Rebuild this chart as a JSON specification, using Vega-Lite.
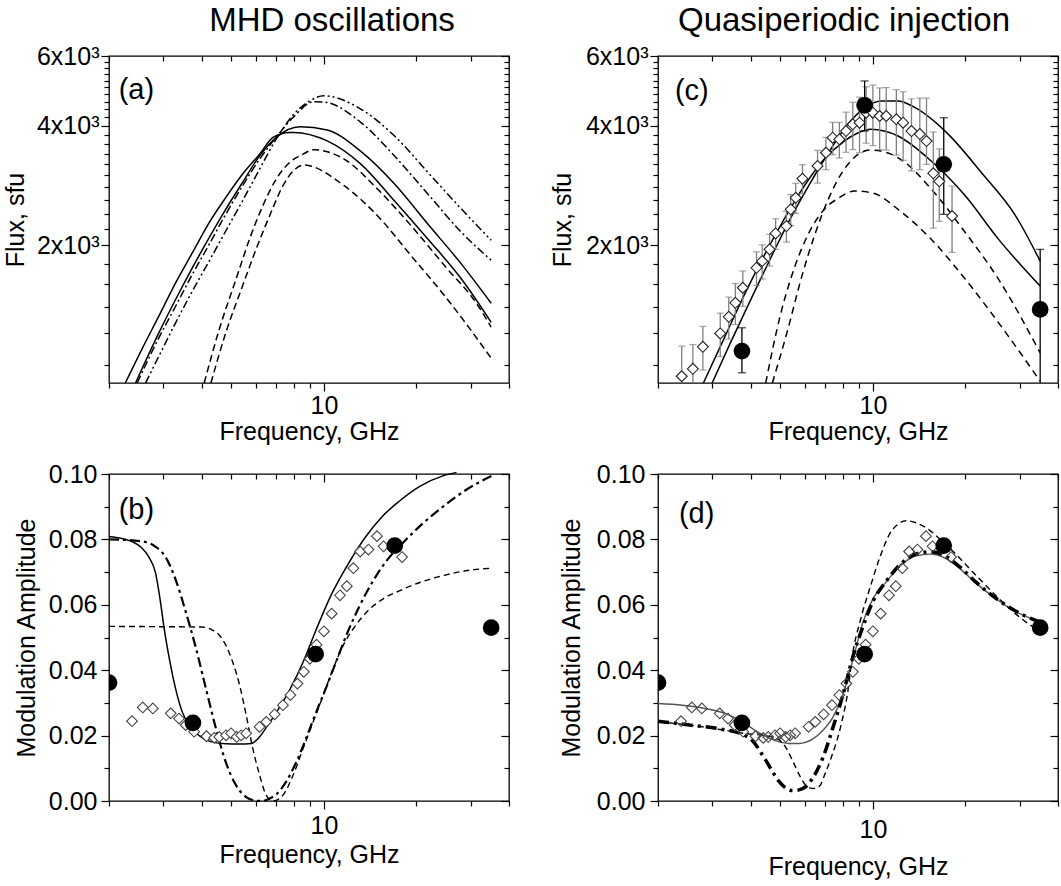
{
"$schema":"https://vega.github.io/schema/vega-lite/v6.json",
"padding":{"left":2,"top":4,"right":0,"bottom":0},
"background":"white",
"config":{
 "font":"Liberation Sans",
 "view":{"stroke":"black","strokeWidth":1.3},
 "line":{"interpolate":"monotone","clip":true},
 "axis":{"domain":false,"grid":false,"tickColor":"black","tickWidth":1.2,"labelFont":"Liberation Sans","labelFontSize":25,"labelColor":"black","titleFont":"Liberation Sans","titleFontSize":25,"titleFontWeight":"normal","titleColor":"black","labelOverlap":false,"labelFlush":false,"labelBound":false}
},
"datasets":{
 "a":[
  {"c":"s1","f":2.26,"F":900},{"c":"s1","f":2.56,"F":1096},{"c":"s1","f":2.91,"F":1330},{"c":"s1","f":3.30,"F":1614},{"c":"s1","f":3.74,"F":1920},{"c":"s1","f":4.24,"F":2286},{"c":"s1","f":4.80,"F":2642},{"c":"s1","f":5.44,"F":3025},{"c":"s1","f":6.18,"F":3396},{"c":"s1","f":6.83,"F":3742},{"c":"s1","f":7.74,"F":3852},{"c":"s1","f":7.98,"F":3852},{"c":"s1","f":10.25,"F":3667},{"c":"s1","f":13.19,"F":3205},{"c":"s1","f":16.95,"F":2591},{"c":"s1","f":21.78,"F":2075},{"c":"s1","f":28.02,"F":1645},{"c":"s1","f":35,"F":1280},
  {"c":"s2","f":2.44,"F":900},{"c":"s2","f":2.91,"F":1207},{"c":"s2","f":3.30,"F":1465},{"c":"s2","f":3.74,"F":1760},{"c":"s2","f":4.24,"F":2095},{"c":"s2","f":4.80,"F":2469},{"c":"s2","f":5.44,"F":2883},{"c":"s2","f":6.18,"F":3363},{"c":"s2","f":7.00,"F":3742},{"c":"s2","f":8.35,"F":3980},{"c":"s2","f":10.25,"F":3904},{"c":"s2","f":13.19,"F":3450},{"c":"s2","f":16.95,"F":2860},{"c":"s2","f":21.78,"F":2263},{"c":"s2","f":28.02,"F":1794},{"c":"s2","f":35,"F":1430},
  {"c":"dd1","f":2.47,"F":900},{"c":"dd1","f":2.91,"F":1173},{"c":"dd1","f":3.30,"F":1409},{"c":"dd1","f":3.74,"F":1694},{"c":"dd1","f":4.24,"F":2015},{"c":"dd1","f":4.80,"F":2399},{"c":"dd1","f":5.44,"F":2827},{"c":"dd1","f":6.18,"F":3300},{"c":"dd1","f":7.00,"F":3748},{"c":"dd1","f":7.94,"F":4203},{"c":"dd1","f":9.27,"F":4600},{"c":"dd1","f":10.0,"F":4592},{"c":"dd1","f":13.19,"F":4083},{"c":"dd1","f":16.95,"F":3363},{"c":"dd1","f":21.78,"F":2694},{"c":"dd1","f":28.02,"F":2157},{"c":"dd1","f":35,"F":1835},
  {"c":"dd2","f":2.63,"F":900},{"c":"dd2","f":2.91,"F":1054},{"c":"dd2","f":3.30,"F":1280},{"c":"dd2","f":3.74,"F":1537},{"c":"dd2","f":4.24,"F":1829},{"c":"dd2","f":4.80,"F":2177},{"c":"dd2","f":5.44,"F":2591},{"c":"dd2","f":6.18,"F":3114},{"c":"dd2","f":7.00,"F":3705},{"c":"dd2","f":7.94,"F":4259},{"c":"dd2","f":9.00,"F":4627},{"c":"dd2","f":10.0,"F":4763},{"c":"dd2","f":13.19,"F":4410},{"c":"dd2","f":16.95,"F":3777},{"c":"dd2","f":21.78,"F":3055},{"c":"dd2","f":28.02,"F":2469},{"c":"dd2","f":35,"F":2060},
  {"c":"d1","f":4.08,"F":900},{"c":"d1","f":4.57,"F":1231},{"c":"d1","f":5.18,"F":1645},{"c":"d1","f":5.73,"F":2075},{"c":"d1","f":6.33,"F":2517},{"c":"d1","f":7.00,"F":2939},{"c":"d1","f":7.74,"F":3237},{"c":"d1","f":8.56,"F":3396},{"c":"d1","f":9.27,"F":3483},{"c":"d1","f":11.63,"F":3300},{"c":"d1","f":14.94,"F":2773},{"c":"d1","f":19.22,"F":2241},{"c":"d1","f":24.70,"F":1777},{"c":"d1","f":31.74,"F":1409},{"c":"d1","f":35,"F":1245},
  {"c":"d2","f":4.29,"F":900},{"c":"d2","f":4.80,"F":1207},{"c":"d2","f":5.44,"F":1582},{"c":"d2","f":6.02,"F":1957},{"c":"d2","f":6.66,"F":2375},{"c":"d2","f":7.36,"F":2827},{"c":"d2","f":7.94,"F":3078},{"c":"d2","f":8.60,"F":3187},{"c":"d2","f":11.63,"F":2827},{"c":"d2","f":14.94,"F":2375},{"c":"d2","f":19.22,"F":1883},{"c":"d2","f":24.70,"F":1493},{"c":"d2","f":35,"F":1040}
 ],
 "b":[
  {"c":"sol","f":2.0,"M":0.0809},{"c":"sol","f":2.2,"M":0.0803},{"c":"sol","f":2.38,"M":0.0793},{"c":"sol","f":2.55,"M":0.0775},{"c":"sol","f":2.7,"M":0.0745},{"c":"sol","f":2.83,"M":0.070},{"c":"sol","f":2.95,"M":0.060},{"c":"sol","f":3.02,"M":0.053},{"c":"sol","f":3.15,"M":0.043},{"c":"sol","f":3.3,"M":0.034},{"c":"sol","f":3.47,"M":0.027},{"c":"sol","f":3.65,"M":0.0232},{"c":"sol","f":3.93,"M":0.0200},{"c":"sol","f":4.24,"M":0.0183},{"c":"sol","f":4.8,"M":0.0175},{"c":"sol","f":5.32,"M":0.0174},{"c":"sol","f":5.81,"M":0.0176},{"c":"sol","f":6.1,"M":0.0190},{"c":"sol","f":6.5,"M":0.0225},{"c":"sol","f":7.0,"M":0.0270},{"c":"sol","f":7.74,"M":0.0340},{"c":"sol","f":8.56,"M":0.0425},{"c":"sol","f":9.4,"M":0.0520},{"c":"sol","f":10.5,"M":0.0625},{"c":"sol","f":12.0,"M":0.0725},{"c":"sol","f":13.6,"M":0.0805},{"c":"sol","f":15.4,"M":0.0868},{"c":"sol","f":17.5,"M":0.0915},{"c":"sol","f":20.5,"M":0.0962},{"c":"sol","f":24.5,"M":0.0995},{"c":"sol","f":27,"M":0.1005},
  {"c":"dash","f":2.0,"M":0.0534},{"c":"dash","f":3.0,"M":0.0533},{"c":"dash","f":4.0,"M":0.0532},{"c":"dash","f":4.35,"M":0.0522},{"c":"dash","f":4.57,"M":0.0507},{"c":"dash","f":4.80,"M":0.0476},{"c":"dash","f":5.05,"M":0.0425},{"c":"dash","f":5.32,"M":0.0354},{"c":"dash","f":5.59,"M":0.0262},{"c":"dash","f":5.87,"M":0.0161},{"c":"dash","f":6.18,"M":0.0079},{"c":"dash","f":6.49,"M":0.0018},{"c":"dash","f":6.83,"M":0.0},{"c":"dash","f":7.36,"M":0.0018},{"c":"dash","f":7.94,"M":0.0079},{"c":"dash","f":8.56,"M":0.0161},{"c":"dash","f":9.23,"M":0.0242},{"c":"dash","f":9.95,"M":0.0323},{"c":"dash","f":10.72,"M":0.0405},{"c":"dash","f":11.55,"M":0.0476},{"c":"dash","f":12.47,"M":0.0527},{"c":"dash","f":13.79,"M":0.0578},{"c":"dash","f":15.63,"M":0.0619},{"c":"dash","f":17.72,"M":0.0644},{"c":"dash","f":20.6,"M":0.0669},{"c":"dash","f":24.6,"M":0.069},{"c":"dash","f":29.3,"M":0.0705},{"c":"dash","f":35.3,"M":0.0712},
  {"c":"dd","f":2.0,"M":0.0800},{"c":"dd","f":2.38,"M":0.0797},{"c":"dd","f":2.63,"M":0.0792},{"c":"dd","f":2.83,"M":0.0778},{"c":"dd","f":3.06,"M":0.0745},{"c":"dd","f":3.30,"M":0.0675},{"c":"dd","f":3.55,"M":0.0580},{"c":"dd","f":3.83,"M":0.0470},{"c":"dd","f":4.13,"M":0.0345},{"c":"dd","f":4.46,"M":0.0220},{"c":"dd","f":4.80,"M":0.0118},{"c":"dd","f":5.18,"M":0.0048},{"c":"dd","f":5.59,"M":0.0012},{"c":"dd","f":6.0,"M":0.0001},{"c":"dd","f":6.3,"M":0.0},{"c":"dd","f":6.6,"M":0.0006},{"c":"dd","f":7.0,"M":0.0020},{"c":"dd","f":7.55,"M":0.0060},{"c":"dd","f":8.14,"M":0.0120},{"c":"dd","f":8.78,"M":0.0195},{"c":"dd","f":9.47,"M":0.0275},{"c":"dd","f":10.2,"M":0.0350},{"c":"dd","f":11.0,"M":0.0430},{"c":"dd","f":11.87,"M":0.0510},{"c":"dd","f":13.12,"M":0.0600},{"c":"dd","f":14.5,"M":0.0675},{"c":"dd","f":16.0,"M":0.0735},{"c":"dd","f":17.72,"M":0.0781},{"c":"dd","f":20.6,"M":0.0842},{"c":"dd","f":24.6,"M":0.0903},{"c":"dd","f":29.3,"M":0.0954},{"c":"dd","f":35.3,"M":0.0995}
 ],
 "diam":[
  {"f":2.377,"M":0.0244},{"f":2.576,"M":0.0286},{"f":2.778,"M":0.0283},{"f":3.174,"M":0.0268},{"f":3.379,"M":0.0252},{"f":3.553,"M":0.0232},{"f":3.784,"M":0.0212},{"f":4.151,"M":0.0198},{"f":4.399,"M":0.0193},{"f":4.567,"M":0.0196},{"f":4.804,"M":0.0201},{"f":4.989,"M":0.0207},{"f":5.204,"M":0.0196},{"f":5.379,"M":0.0201},{"f":5.586,"M":0.0207},{"f":6.175,"M":0.0227},{"f":6.494,"M":0.0242},{"f":6.914,"M":0.0265},{"f":7.359,"M":0.0293},{"f":7.780,"M":0.0324},{"f":8.202,"M":0.0359},{"f":8.602,"M":0.0395},{"f":9.0,"M":0.0435},{"f":9.465,"M":0.0478},{"f":10.0,"M":0.0519},{"f":10.60,"M":0.0573},{"f":11.28,"M":0.0629},{"f":11.87,"M":0.0657},{"f":12.47,"M":0.0712},{"f":13.12,"M":0.0763},{"f":13.96,"M":0.0769},{"f":14.88,"M":0.0810},{"f":15.63,"M":0.0779},{"f":16.65,"M":0.0773},{"f":17.96,"M":0.0746}
 ],
 "circ":[
  {"f":2.0,"M":0.0362},{"f":3.75,"M":0.0239},{"f":9.4,"M":0.0449},{"f":17,"M":0.0781},{"f":35,"M":0.053}
 ],
 "c":[
  {"c":"hi","f":3.00,"F":900},{"c":"hi","f":3.44,"F":1136},{"c":"hi","f":4.00,"F":1456},{"c":"hi","f":4.65,"F":1858},{"c":"hi","f":5.40,"F":2343},{"c":"hi","f":6.28,"F":2888},{"c":"hi","f":7.30,"F":3498},{"c":"hi","f":8.29,"F":4043},{"c":"hi","f":9.39,"F":4437},{"c":"hi","f":10.62,"F":4623},{"c":"hi","f":12.07,"F":4623},{"c":"hi","f":13.72,"F":4445},{"c":"hi","f":17.60,"F":3808},{"c":"hi","f":22.56,"F":3048},{"c":"hi","f":29.15,"F":2371},{"c":"hi","f":35,"F":1826},
  {"c":"lo","f":2.81,"F":900},{"c":"lo","f":3.27,"F":1159},{"c":"lo","f":3.80,"F":1490},{"c":"lo","f":4.42,"F":1879},{"c":"lo","f":5.14,"F":2325},{"c":"lo","f":5.98,"F":2822},{"c":"lo","f":6.95,"F":3301},{"c":"lo","f":8.08,"F":3663},{"c":"lo","f":8.93,"F":3837},{"c":"lo","f":9.85,"F":3920},{"c":"lo","f":12.07,"F":3771},{"c":"lo","f":15.48,"F":3262},{"c":"lo","f":20.0,"F":2663},{"c":"lo","f":25.64,"F":2071},{"c":"lo","f":35,"F":1579},
  {"c":"dhi","f":4.71,"F":900},{"c":"dhi","f":5.27,"F":1216},{"c":"dhi","f":5.90,"F":1693},{"c":"dhi","f":6.45,"F":2111},{"c":"dhi","f":7.12,"F":2587},{"c":"dhi","f":7.88,"F":3025},{"c":"dhi","f":8.73,"F":3339},{"c":"dhi","f":9.85,"F":3477},{"c":"dhi","f":11.20,"F":3418},{"c":"dhi","f":12.54,"F":3262},{"c":"dhi","f":15.48,"F":2773},{"c":"dhi","f":20.0,"F":2152},{"c":"dhi","f":25.64,"F":1642},{"c":"dhi","f":35,"F":1072},
  {"c":"dlo","f":4.48,"F":900},{"c":"dlo","f":5.01,"F":1342},{"c":"dlo","f":5.61,"F":1794},{"c":"dlo","f":6.21,"F":2160},{"c":"dlo","f":6.95,"F":2465},{"c":"dlo","f":7.74,"F":2632},{"c":"dlo","f":8.71,"F":2741},{"c":"dlo","f":10.0,"F":2709},{"c":"dlo","f":12.07,"F":2465},{"c":"dlo","f":15.48,"F":2071},{"c":"dlo","f":20.0,"F":1642},{"c":"dlo","f":25.64,"F":1276},{"c":"dlo","f":35,"F":910}
 ],
 "diamc":[
  {"f":2.389,"F":936,"lo":757,"hi":1115},{"f":2.597,"F":977,"lo":829,"hi":1125},{"f":2.799,"F":1110,"lo":970,"hi":1250},{"f":3.188,"F":1200,"lo":1050,"hi":1350},{"f":3.397,"F":1321,"lo":1161,"hi":1481},{"f":3.570,"F":1433,"lo":1263,"hi":1603},{"f":3.775,"F":1564,"lo":1404,"hi":1724},{"f":4.182,"F":1756,"lo":1586,"hi":1926},{"f":4.365,"F":1826,"lo":1646,"hi":2006},{"f":4.612,"F":1954,"lo":1774,"hi":2134},{"f":4.826,"F":2144,"lo":1954,"hi":2334},{"f":5.232,"F":2237,"lo":2037,"hi":2437},{"f":5.404,"F":2465,"lo":2245,"hi":2685},{"f":5.610,"F":2636,"lo":2406,"hi":2866},{"f":5.901,"F":2944,"lo":2694,"hi":3194},{"f":6.607,"F":3170,"lo":2870,"hi":3470},{"f":7.035,"F":3423,"lo":3103,"hi":3743},{"f":7.398,"F":3735,"lo":3385,"hi":4085},{"f":7.780,"F":3700,"lo":3320,"hi":4080},{"f":8.177,"F":3882,"lo":3432,"hi":4332},{"f":8.602,"F":4036,"lo":3486,"hi":4586},{"f":9.048,"F":4075,"lo":3425,"hi":4725},{"f":9.508,"F":4318,"lo":3618,"hi":5018},{"f":10.0,"F":4318,"lo":3568,"hi":5068},{"f":10.52,"F":4236,"lo":3486,"hi":4986},{"f":11.05,"F":4236,"lo":3476,"hi":4996},{"f":11.92,"F":4155,"lo":3375,"hi":4935},{"f":12.54,"F":4075,"lo":3275,"hi":4875},{"f":13.35,"F":3882,"lo":3082,"hi":4682},{"f":14.21,"F":3815,"lo":3100,"hi":4700},{"f":14.94,"F":3663,"lo":3200,"hi":4700},{"f":15.72,"F":3038,"lo":2210,"hi":3860},{"f":16.44,"F":2900,"lo":2300,"hi":3500},{"f":18.09,"F":2371,"lo":1920,"hi":2820}
 ],
 "circc":[
  {"f":3.75,"F":1083,"lo":955,"hi":1240},{"f":9.4,"F":4508,"lo":3883,"hi":5191},{"f":17,"F":3201,"lo":2394,"hi":4195},{"f":35,"F":1379,"lo":800,"hi":1954}
 ],
 "d":[
  {"c":"gray","f":2.0,"M":0.0298},{"c":"gray","f":2.4,"M":0.0293},{"c":"gray","f":2.84,"M":0.0283},{"c":"gray","f":3.3,"M":0.0268},{"c":"gray","f":3.77,"M":0.0242},{"c":"gray","f":4.2,"M":0.0212},{"c":"gray","f":4.77,"M":0.0186},{"c":"gray","f":5.33,"M":0.0176},{"c":"gray","f":5.76,"M":0.0176},{"c":"gray","f":6.36,"M":0.0189},{"c":"gray","f":6.86,"M":0.0215},{"c":"gray","f":7.4,"M":0.0255},{"c":"gray","f":7.98,"M":0.0325},{"c":"gray","f":8.6,"M":0.0430},{"c":"gray","f":9.27,"M":0.0545},{"c":"gray","f":10.0,"M":0.0618},{"c":"gray","f":11.05,"M":0.0670},{"c":"gray","f":12.23,"M":0.0718},{"c":"gray","f":13.86,"M":0.0750},{"c":"gray","f":15.33,"M":0.0755},{"c":"gray","f":16.95,"M":0.0745},{"c":"gray","f":19.22,"M":0.0710},{"c":"gray","f":21.78,"M":0.0664},{"c":"gray","f":24.7,"M":0.0624},{"c":"gray","f":28.02,"M":0.0588},{"c":"gray","f":31.74,"M":0.0563},{"c":"gray","f":35.5,"M":0.0544},
  {"c":"thick","f":2.0,"M":0.0244},{"c":"thick","f":2.5,"M":0.0233},{"c":"thick","f":3.2,"M":0.0220},{"c":"thick","f":3.7,"M":0.0207},{"c":"thick","f":4.05,"M":0.0185},{"c":"thick","f":4.48,"M":0.0125},{"c":"thick","f":4.95,"M":0.0060},{"c":"thick","f":5.2,"M":0.0040},{"c":"thick","f":5.47,"M":0.0032},{"c":"thick","f":5.75,"M":0.0034},{"c":"thick","f":6.05,"M":0.0044},{"c":"thick","f":6.36,"M":0.0069},{"c":"thick","f":6.86,"M":0.0130},{"c":"thick","f":7.4,"M":0.0222},{"c":"thick","f":7.98,"M":0.0323},{"c":"thick","f":8.6,"M":0.0440},{"c":"thick","f":9.27,"M":0.0532},{"c":"thick","f":10.0,"M":0.0610},{"c":"thick","f":11.05,"M":0.0672},{"c":"thick","f":12.23,"M":0.0722},{"c":"thick","f":13.86,"M":0.0756},{"c":"thick","f":15.33,"M":0.0762},{"c":"thick","f":16.95,"M":0.0752},{"c":"thick","f":19.22,"M":0.0715},{"c":"thick","f":21.78,"M":0.0667},{"c":"thick","f":24.7,"M":0.0625},{"c":"thick","f":28.02,"M":0.0590},{"c":"thick","f":31.74,"M":0.0563},{"c":"thick","f":35.5,"M":0.0545},
  {"c":"dash","f":2.0,"M":0.0242},{"c":"dash","f":2.54,"M":0.0232},{"c":"dash","f":3.27,"M":0.0217},{"c":"dash","f":3.8,"M":0.0207},{"c":"dash","f":4.48,"M":0.0200},{"c":"dash","f":4.9,"M":0.0190},{"c":"dash","f":5.2,"M":0.0165},{"c":"dash","f":5.5,"M":0.0120},{"c":"dash","f":5.8,"M":0.0075},{"c":"dash","f":6.1,"M":0.0045},{"c":"dash","f":6.4,"M":0.0038},{"c":"dash","f":6.7,"M":0.0045},{"c":"dash","f":7.0,"M":0.0085},{"c":"dash","f":7.3,"M":0.0130},{"c":"dash","f":7.9,"M":0.0237},{"c":"dash","f":8.3,"M":0.0339},{"c":"dash","f":8.56,"M":0.0440},{"c":"dash","f":9.1,"M":0.0552},{"c":"dash","f":9.8,"M":0.0654},{"c":"dash","f":10.54,"M":0.0746},{"c":"dash","f":11.34,"M":0.0817},{"c":"dash","f":12.0,"M":0.0845},{"c":"dash","f":12.83,"M":0.0857},{"c":"dash","f":14.5,"M":0.0842},{"c":"dash","f":17.2,"M":0.0786},{"c":"dash","f":21.96,"M":0.0684},{"c":"dash","f":26.1,"M":0.0613},{"c":"dash","f":31.0,"M":0.0552},{"c":"dash","f":35.0,"M":0.0518}
 ]
},
"columns":2,
"spacing":{"row":16,"column":38},
"concat":[
 {
  "width":400,"height":327,
  "title":{"text":"MHD oscillations","fontSize":33,"fontWeight":"normal","font":"Liberation Sans","anchor":"middle","frame":"group","dx":23,"offset":6,"color":"black"},
  "resolve":{"axis":{"x":"independent","y":"independent"}},
  "layer":[
   {"data":{"name":"a"},"transform":[{"filter":"datum.c == 's1' || datum.c == 's2'"}],
    "mark":{"type":"line","color":"black","strokeWidth":1.5},
    "encoding":{
     "x":{"field":"f","type":"quantitative","scale":{"type":"log","domain":[2,40],"nice":false},"axis":{"orient":"bottom","values":[2,3,4,5,6,7,8,9,10,20,30,40],"labelExpr":"datum.value == 10 ? '10' : ''","tickSize":{"condition":{"test":"datum.value == 10","value":8},"value":5},"title":"Frequency, GHz","labelPadding":2,"titlePadding":1}},
     "y":{"field":"F","type":"quantitative","scale":{"type":"log","domain":[900,6000],"nice":false},"axis":{"orient":"left","values":[1000,1200,1400,1600,1800,2000,2200,2400,2600,2800,3000,3200,3400,3600,3800,4000,4200,4400,4600,4800,5000,5200,5400,5600,5800,6000],"labelExpr":"datum.value == 2000 ? '2x10³' : datum.value == 4000 ? '4x10³' : datum.value == 6000 ? '6x10³' : ''","tickSize":{"condition":{"test":"datum.value % 2000 == 0","value":8},"value":5},"title":"Flux, sfu","labelPadding":2,"titlePadding":8}},
     "detail":{"field":"c","type":"nominal"}
    }},
   {"data":{"name":"a"},"transform":[{"filter":"datum.c == 'd1' || datum.c == 'd2'"}],
    "mark":{"type":"line","color":"black","strokeWidth":1.5,"strokeDash":[7,4]},
    "encoding":{
     "x":{"field":"f","type":"quantitative","scale":{"type":"log","domain":[2,40],"nice":false},"axis":{"orient":"top","values":[2,3,4,5,6,7,8,9,10,20,30,40],"labels":false,"tickSize":{"condition":{"test":"datum.value == 10","value":-8},"value":-5},"title":null}},
     "y":{"field":"F","type":"quantitative","scale":{"type":"log","domain":[900,6000],"nice":false},"axis":{"orient":"right","values":[1000,1200,1400,1600,1800,2000,2200,2400,2600,2800,3000,3200,3400,3600,3800,4000,4200,4400,4600,4800,5000,5200,5400,5600,5800,6000],"labels":false,"tickSize":{"condition":{"test":"datum.value % 2000 == 0","value":-8},"value":-5},"title":null}},
     "detail":{"field":"c","type":"nominal"}
    }},
   {"data":{"name":"a"},"transform":[{"filter":"datum.c == 'dd1'"}],
    "mark":{"type":"line","color":"black","strokeWidth":1.5,"strokeDash":[8,3,2,3]},
    "encoding":{
     "x":{"field":"f","type":"quantitative","scale":{"type":"log","domain":[2,40],"nice":false},"axis":null},
     "y":{"field":"F","type":"quantitative","scale":{"type":"log","domain":[900,6000],"nice":false},"axis":null}
    }},
   {"data":{"name":"a"},"transform":[{"filter":"datum.c == 'dd2'"}],
    "mark":{"type":"line","color":"black","strokeWidth":1.5,"strokeDash":[8,3,2,3,2,3]},
    "encoding":{
     "x":{"field":"f","type":"quantitative","scale":{"type":"log","domain":[2,40],"nice":false},"axis":null},
     "y":{"field":"F","type":"quantitative","scale":{"type":"log","domain":[900,6000],"nice":false},"axis":null}
    }},
   {"data":{"values":[{}]},
    "mark":{"type":"text","align":"left","baseline":"middle","fontSize":29,"font":"Liberation Sans","color":"black"},
    "encoding":{
     "x":{"datum":2.15,"type":"quantitative","scale":{"type":"log","domain":[2,40],"nice":false},"axis":null},
     "y":{"datum":4923,"type":"quantitative","scale":{"type":"log","domain":[900,6000],"nice":false},"axis":null},
     "text":{"value":"(a)"}
    }}
  ]
 },
 {
  "width":400,"height":327,
  "title":{"text":"Quasiperiodic injection","fontSize":33,"fontWeight":"normal","font":"Liberation Sans","anchor":"middle","frame":"group","dx":-14,"offset":6,"color":"black"},
  "resolve":{"axis":{"x":"independent","y":"independent"}},
  "layer":[
   {"data":{"name":"c"},"transform":[{"filter":"datum.c == 'hi' || datum.c == 'lo'"}],
    "mark":{"type":"line","color":"black","strokeWidth":1.5},
    "encoding":{
     "x":{"field":"f","type":"quantitative","scale":{"type":"log","domain":[2,40],"nice":false},"axis":{"orient":"bottom","values":[2,3,4,5,6,7,8,9,10,20,30,40],"labelExpr":"datum.value == 10 ? '10' : ''","tickSize":{"condition":{"test":"datum.value == 10","value":8},"value":5},"title":"Frequency, GHz","labelPadding":2,"titlePadding":1}},
     "y":{"field":"F","type":"quantitative","scale":{"type":"log","domain":[900,6000],"nice":false},"axis":{"orient":"left","values":[1000,1200,1400,1600,1800,2000,2200,2400,2600,2800,3000,3200,3400,3600,3800,4000,4200,4400,4600,4800,5000,5200,5400,5600,5800,6000],"labelExpr":"datum.value == 2000 ? '2x10³' : datum.value == 4000 ? '4x10³' : datum.value == 6000 ? '6x10³' : ''","tickSize":{"condition":{"test":"datum.value % 2000 == 0","value":8},"value":5},"title":"Flux, sfu","labelPadding":2,"titlePadding":10}},
     "detail":{"field":"c","type":"nominal"}
    }},
   {"data":{"name":"c"},"transform":[{"filter":"datum.c == 'dhi' || datum.c == 'dlo'"}],
    "mark":{"type":"line","color":"black","strokeWidth":1.5,"strokeDash":[7,5]},
    "encoding":{
     "x":{"field":"f","type":"quantitative","scale":{"type":"log","domain":[2,40],"nice":false},"axis":{"orient":"top","values":[2,3,4,5,6,7,8,9,10,20,30,40],"labels":false,"tickSize":{"condition":{"test":"datum.value == 10","value":-8},"value":-5},"title":null}},
     "y":{"field":"F","type":"quantitative","scale":{"type":"log","domain":[900,6000],"nice":false},"axis":{"orient":"right","values":[1000,1200,1400,1600,1800,2000,2200,2400,2600,2800,3000,3200,3400,3600,3800,4000,4200,4400,4600,4800,5000,5200,5400,5600,5800,6000],"labels":false,"tickSize":{"condition":{"test":"datum.value % 2000 == 0","value":-8},"value":-5},"title":null}},
     "detail":{"field":"c","type":"nominal"}
    }},
   {"data":{"name":"diamc"},
    "mark":{"type":"rule","clip":true,"color":"#808080","strokeWidth":1.3},
    "encoding":{
     "x":{"field":"f","type":"quantitative","scale":{"type":"log","domain":[2,40],"nice":false},"axis":null},
     "y":{"field":"lo","type":"quantitative","scale":{"type":"log","domain":[900,6000],"nice":false},"axis":null},
     "y2":{"field":"hi"}
    }},
   {"data":{"name":"diamc"},"transform":[{"fold":["lo","hi"],"as":["k","v"]}],
    "mark":{"type":"tick","orient":"horizontal","clip":true,"color":"#808080","size":7,"thickness":1.2},
    "encoding":{
     "x":{"field":"f","type":"quantitative","scale":{"type":"log","domain":[2,40],"nice":false},"axis":null},
     "y":{"field":"v","type":"quantitative","scale":{"type":"log","domain":[900,6000],"nice":false},"axis":null}
    }},
   {"data":{"name":"circc"},
    "mark":{"type":"rule","clip":true,"color":"black","strokeWidth":1.3},
    "encoding":{
     "x":{"field":"f","type":"quantitative","scale":{"type":"log","domain":[2,40],"nice":false},"axis":null},
     "y":{"field":"lo","type":"quantitative","scale":{"type":"log","domain":[900,6000],"nice":false},"axis":null},
     "y2":{"field":"hi"}
    }},
   {"data":{"name":"circc"},"transform":[{"fold":["lo","hi"],"as":["k","v"]}],
    "mark":{"type":"tick","orient":"horizontal","clip":true,"color":"black","size":8,"thickness":1.3},
    "encoding":{
     "x":{"field":"f","type":"quantitative","scale":{"type":"log","domain":[2,40],"nice":false},"axis":null},
     "y":{"field":"v","type":"quantitative","scale":{"type":"log","domain":[900,6000],"nice":false},"axis":null}
    }},
   {"data":{"name":"diamc"},
    "mark":{"type":"point","shape":"diamond","filled":true,"fill":"white","stroke":"#222","strokeWidth":1.1,"size":120,"opacity":1,"clip":true},
    "encoding":{
     "x":{"field":"f","type":"quantitative","scale":{"type":"log","domain":[2,40],"nice":false},"axis":null},
     "y":{"field":"F","type":"quantitative","scale":{"type":"log","domain":[900,6000],"nice":false},"axis":null}
    }},
   {"data":{"name":"circc"},
    "mark":{"type":"circle","color":"black","size":280,"opacity":1,"clip":true},
    "encoding":{
     "x":{"field":"f","type":"quantitative","scale":{"type":"log","domain":[2,40],"nice":false},"axis":null},
     "y":{"field":"F","type":"quantitative","scale":{"type":"log","domain":[900,6000],"nice":false},"axis":null}
    }},
   {"data":{"values":[{}]},
    "mark":{"type":"text","align":"left","baseline":"middle","fontSize":29,"font":"Liberation Sans","color":"black"},
    "encoding":{
     "x":{"datum":2.27,"type":"quantitative","scale":{"type":"log","domain":[2,40],"nice":false},"axis":null},
     "y":{"datum":4898,"type":"quantitative","scale":{"type":"log","domain":[900,6000],"nice":false},"axis":null},
     "text":{"value":"(c)"}
    }}
  ]
 },
 {
  "width":400,"height":327,
  "resolve":{"axis":{"x":"independent","y":"independent"}},
  "layer":[
   {"data":{"name":"b"},"transform":[{"filter":"datum.c == 'sol'"}],
    "mark":{"type":"line","color":"black","strokeWidth":1.5},
    "encoding":{
     "x":{"field":"f","type":"quantitative","scale":{"type":"log","domain":[2,40],"nice":false},"axis":{"orient":"bottom","values":[2,3,4,5,6,7,8,9,10,20,30,40],"labelExpr":"datum.value == 10 ? '10' : ''","tickSize":{"condition":{"test":"datum.value == 10","value":8},"value":5},"title":"Frequency, GHz","labelPadding":4,"titlePadding":4}},
     "y":{"field":"M","type":"quantitative","scale":{"domain":[0,0.1],"nice":false,"zero":false},"axis":{"orient":"left","values":[0,0.01,0.02,0.03,0.04,0.05,0.06,0.07,0.08,0.09,0.1],"labelExpr":"round(datum.value*100) % 2 == 0 ? format(datum.value, '.2f') : ''","tickSize":{"condition":{"test":"round(datum.value*100) % 2 == 0","value":8},"value":5},"title":"Modulation Amplitude","labelPadding":4,"titlePadding":9}}
    }},
   {"data":{"name":"b"},"transform":[{"filter":"datum.c == 'dd'"}],
    "mark":{"type":"line","color":"black","strokeWidth":2.2,"strokeDash":[10,4,3,4]},
    "encoding":{
     "x":{"field":"f","type":"quantitative","scale":{"type":"log","domain":[2,40],"nice":false},"axis":{"orient":"top","values":[2,3,4,5,6,7,8,9,10,20,30,40],"labels":false,"tickSize":{"condition":{"test":"datum.value == 10","value":-8},"value":-5},"title":null}},
     "y":{"field":"M","type":"quantitative","scale":{"domain":[0,0.1],"nice":false,"zero":false},"axis":{"orient":"right","values":[0,0.01,0.02,0.03,0.04,0.05,0.06,0.07,0.08,0.09,0.1],"labels":false,"tickSize":{"condition":{"test":"round(datum.value*100) % 2 == 0","value":-8},"value":-5},"title":null}}
    }},
   {"data":{"name":"b"},"transform":[{"filter":"datum.c == 'dash'"}],
    "mark":{"type":"line","color":"black","strokeWidth":1.4,"strokeDash":[6,4]},
    "encoding":{
     "x":{"field":"f","type":"quantitative","scale":{"type":"log","domain":[2,40],"nice":false},"axis":null},
     "y":{"field":"M","type":"quantitative","scale":{"domain":[0,0.1],"nice":false,"zero":false},"axis":null}
    }},
   {"data":{"name":"diam"},
    "mark":{"type":"point","shape":"diamond","filled":true,"fill":"white","stroke":"#444","strokeWidth":1.1,"size":115,"opacity":1,"clip":true},
    "encoding":{
     "x":{"field":"f","type":"quantitative","scale":{"type":"log","domain":[2,40],"nice":false},"axis":null},
     "y":{"field":"M","type":"quantitative","scale":{"domain":[0,0.1],"nice":false,"zero":false},"axis":null}
    }},
   {"data":{"name":"circ"},
    "mark":{"type":"circle","color":"black","size":280,"opacity":1,"clip":true},
    "encoding":{
     "x":{"field":"f","type":"quantitative","scale":{"type":"log","domain":[2,40],"nice":false},"axis":null},
     "y":{"field":"M","type":"quantitative","scale":{"domain":[0,0.1],"nice":false,"zero":false},"axis":null}
    }},
   {"data":{"values":[{}]},
    "mark":{"type":"text","align":"left","baseline":"middle","fontSize":29,"font":"Liberation Sans","color":"black"},
    "encoding":{
     "x":{"datum":2.15,"type":"quantitative","scale":{"type":"log","domain":[2,40],"nice":false},"axis":null},
     "y":{"datum":0.0889,"type":"quantitative","scale":{"domain":[0,0.1],"nice":false,"zero":false},"axis":null},
     "text":{"value":"(b)"}
    }}
  ]
 },
 {
  "width":400,"height":327,
  "resolve":{"axis":{"x":"independent","y":"independent"}},
  "layer":[
   {"data":{"name":"d"},"transform":[{"filter":"datum.c == 'gray'"}],
    "mark":{"type":"line","color":"#555555","strokeWidth":1.4},
    "encoding":{
     "x":{"field":"f","type":"quantitative","scale":{"type":"log","domain":[2,40],"nice":false},"axis":{"orient":"bottom","values":[2,3,4,5,6,7,8,9,10,20,30,40],"labelExpr":"datum.value == 10 ? '10' : ''","tickSize":{"condition":{"test":"datum.value == 10","value":8},"value":5},"title":"Frequency, GHz","labelPadding":8,"titlePadding":12}},
     "y":{"field":"M","type":"quantitative","scale":{"domain":[0,0.1],"nice":false,"zero":false},"axis":{"orient":"left","values":[0,0.01,0.02,0.03,0.04,0.05,0.06,0.07,0.08,0.09,0.1],"labelExpr":"round(datum.value*100) % 2 == 0 ? format(datum.value, '.2f') : ''","tickSize":{"condition":{"test":"round(datum.value*100) % 2 == 0","value":8},"value":5},"title":"Modulation Amplitude","labelPadding":5,"titlePadding":12}}
    }},
   {"data":{"name":"d"},"transform":[{"filter":"datum.c == 'thick'"}],
    "mark":{"type":"line","color":"black","strokeWidth":3.5,"strokeDash":[11,5,3,5]},
    "encoding":{
     "x":{"field":"f","type":"quantitative","scale":{"type":"log","domain":[2,40],"nice":false},"axis":{"orient":"top","values":[2,3,4,5,6,7,8,9,10,20,30,40],"labels":false,"tickSize":{"condition":{"test":"datum.value == 10","value":-8},"value":-5},"title":null}},
     "y":{"field":"M","type":"quantitative","scale":{"domain":[0,0.1],"nice":false,"zero":false},"axis":{"orient":"right","values":[0,0.01,0.02,0.03,0.04,0.05,0.06,0.07,0.08,0.09,0.1],"labels":false,"tickSize":{"condition":{"test":"round(datum.value*100) % 2 == 0","value":-8},"value":-5},"title":null}}
    }},
   {"data":{"name":"d"},"transform":[{"filter":"datum.c == 'dash'"}],
    "mark":{"type":"line","color":"black","strokeWidth":1.4,"strokeDash":[6,4]},
    "encoding":{
     "x":{"field":"f","type":"quantitative","scale":{"type":"log","domain":[2,40],"nice":false},"axis":null},
     "y":{"field":"M","type":"quantitative","scale":{"domain":[0,0.1],"nice":false,"zero":false},"axis":null}
    }},
   {"data":{"name":"diam"},
    "mark":{"type":"point","shape":"diamond","filled":false,"stroke":"#444","strokeWidth":1.1,"size":115,"opacity":1,"clip":true},
    "encoding":{
     "x":{"field":"f","type":"quantitative","scale":{"type":"log","domain":[2,40],"nice":false},"axis":null},
     "y":{"field":"M","type":"quantitative","scale":{"domain":[0,0.1],"nice":false,"zero":false},"axis":null}
    }},
   {"data":{"name":"circ"},
    "mark":{"type":"circle","color":"black","size":280,"opacity":1,"clip":true},
    "encoding":{
     "x":{"field":"f","type":"quantitative","scale":{"type":"log","domain":[2,40],"nice":false},"axis":null},
     "y":{"field":"M","type":"quantitative","scale":{"domain":[0,0.1],"nice":false,"zero":false},"axis":null}
    }},
   {"data":{"values":[{}]},
    "mark":{"type":"text","align":"left","baseline":"middle","fontSize":29,"font":"Liberation Sans","color":"black"},
    "encoding":{
     "x":{"datum":2.34,"type":"quantitative","scale":{"type":"log","domain":[2,40],"nice":false},"axis":null},
     "y":{"datum":0.0879,"type":"quantitative","scale":{"domain":[0,0.1],"nice":false,"zero":false},"axis":null},
     "text":{"value":"(d)"}
    }}
  ]
 }
]
}
